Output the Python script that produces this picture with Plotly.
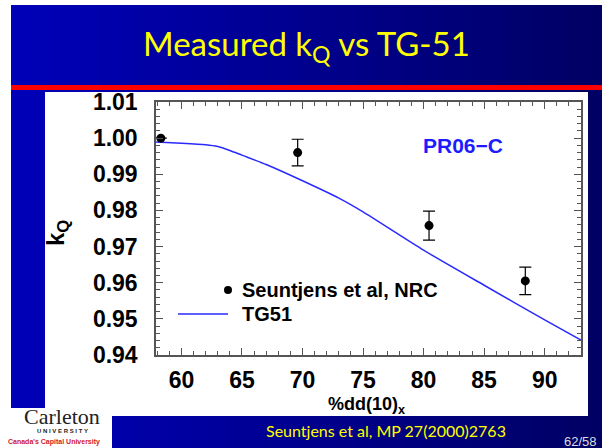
import plotly.graph_objects as go

# Measured kQ (Seuntjens et al, NRC) for the PR06-C chamber
meas_pdd = [58.3, 69.6, 80.45, 88.4]
meas_kq = [1.0000, 0.9960, 0.9758, 0.9605]
meas_err = [0.0, 0.0037, 0.0040, 0.0038]

# TG-51 kQ curve
tg51_pdd = [57.9, 60.0, 62.0, 63.0, 64.0, 65.0, 67.0, 70.0, 73.0, 75.0, 80.0, 85.0, 90.0, 93.0]
tg51_kq = [0.9989, 0.9986, 0.9982, 0.9977, 0.9966, 0.9953, 0.9927, 0.9882, 0.9834, 0.9796,
           0.9690, 0.9593, 0.9497, 0.9441]

x_ticks = [60, 65, 70, 75, 80, 85, 90]
y_ticks = [0.94, 0.95, 0.96, 0.97, 0.98, 0.99, 1.00, 1.01]

FW, FH = 602, 448
ML, MR, MT, MB = 156, 21, 102, 93
PW, PH = FW - ML - MR, FH - MT - MB


def px(x):
    return (x - ML) / PW


def py(y):
    return (FH - MB - y) / PH


FONT = "Liberation Sans, Arial, sans-serif"
shapes = []

# slide background: horizontal blue gradient
n = 60
x0, x1 = 11, FW
for i in range(n):
    t = i / (n - 1)
    b = round(184 - 84 * t)
    a = x0 + (x1 - x0) * i / n
    c = x0 + (x1 - x0) * (i + 1) / n + 1
    shapes.append(dict(type="rect", xref="paper", yref="paper", layer="below",
                       x0=px(a), x1=px(c), y0=py(FH), y1=py(5),
                       fillcolor=f"rgb(0,0,{b})", line=dict(width=0)))

# red divider under the title
shapes.append(dict(type="rect", xref="paper", yref="paper", layer="below",
                   x0=px(11), x1=px(FW), y0=py(90), y1=py(85),
                   fillcolor="#ff0000", line=dict(width=0)))
# white chart panel
shapes.append(dict(type="rect", xref="paper", yref="paper", layer="below",
                   x0=px(45), x1=px(588), y0=py(416), y1=py(92),
                   fillcolor="white", line=dict(width=0)))
# logo box
shapes.append(dict(type="rect", xref="paper", yref="paper", layer="below",
                   x0=px(0), x1=px(112), y0=py(FH), y1=py(408),
                   fillcolor="white", line=dict(width=0)))

# legend samples
shapes.append(dict(type="line", xref="paper", yref="paper",
                   x0=px(178), x1=px(228), y0=py(314), y1=py(314),
                   line=dict(color="#2a2aff", width=1.5)))
shapes.append(dict(type="circle", xref="paper", yref="paper",
                   x0=px(224), x1=px(232), y0=py(294), y1=py(286),
                   fillcolor="black", line=dict(color="black", width=0)))

fig = go.Figure()
fig.add_trace(go.Scatter(x=tg51_pdd, y=tg51_kq, mode="lines",
                         line=dict(color="#2a2aff", width=1.5, shape="spline", smoothing=0.6),
                         showlegend=False))
fig.add_trace(go.Scatter(x=meas_pdd, y=meas_kq, mode="markers",
                         marker=dict(color="black", size=9),
                         error_y=dict(type="data", array=meas_err, color="black",
                                      thickness=1.2, width=6),
                         showlegend=False))

annotations = [
    dict(text="Measured k<sub>Q</sub> vs TG-51", x=px(306), y=py(46),
         font=dict(family="Lato, sans-serif", size=33, color="#ffff00")),
    dict(text="PR06\u2212C", x=px(463), y=py(145),
         font=dict(family=FONT, size=21, color="#1c1cff", weight="bold")),
    dict(text="Seuntjens et al, NRC", x=px(240), y=py(290), xanchor="left",
         font=dict(family=FONT, size=20, color="black", weight="bold")),
    dict(text="TG51", x=px(240), y=py(314), xanchor="left",
         font=dict(family=FONT, size=20, color="black", weight="bold")),
    dict(text="k<sub>Q</sub>", x=px(57), y=py(233), textangle=-90,
         font=dict(family=FONT, size=24, color="black", weight="bold")),
    dict(text="%dd(10)<sub>x</sub>", x=px(366), y=py(405),
         font=dict(family=FONT, size=18, color="black", weight="bold")),
    dict(text="Seuntjens et al, MP 27(2000)2763", x=px(386), y=py(430),
         font=dict(family="Lato, sans-serif", size=16, color="#ffff00")),
    dict(text="62/58", x=px(580), y=py(441),
         font=dict(family=FONT, size=13, color="#dddddd")),
    dict(text="Carleton", x=px(62), y=py(416),
         font=dict(family="Liberation Serif, serif", size=22, color="#222222")),
    dict(text="U N I V E R S I T Y", x=px(62), y=py(431),
         font=dict(family=FONT, size=6, color="#222222", weight="bold")),
    dict(text="Canada's Capital University", x=px(54), y=py(442),
         font=dict(family=FONT, size=7, color="#d0202a", weight="bold")),
]
for a in annotations:
    a.update(xref="paper", yref="paper", showarrow=False)
    a.setdefault("xanchor", "center")
    a.setdefault("yanchor", "middle")

axis_common = dict(showline=True, linecolor="#555555", linewidth=1.5, mirror="allticks",
                   ticks="inside", ticklen=7, tickwidth=1.2, tickcolor="#555555",
                   showgrid=False, zeroline=False,
                   tickfont=dict(family=FONT, size=23, color="black", weight="bold"))

fig.update_xaxes(range=[57.9, 93.0], tickvals=x_ticks, ticklabelstandoff=4,
                 minor=dict(dtick=1, ticks="inside", ticklen=4, tickcolor="#555555",
                            showgrid=False),
                 **axis_common)
fig.update_yaxes(range=[0.94, 1.01], tickvals=y_ticks, tickformat=".2f",
                 ticklabelstandoff=12,
                 minor=dict(dtick=0.002, ticks="inside", ticklen=4, tickcolor="#555555",
                            showgrid=False),
                 **axis_common)

fig.update_layout(width=FW, height=FH, margin=dict(l=ML, r=MR, t=MT, b=MB),
                  paper_bgcolor="white", plot_bgcolor="rgba(0,0,0,0)",
                  shapes=shapes, annotations=annotations)

fig.write_html("out.html")
